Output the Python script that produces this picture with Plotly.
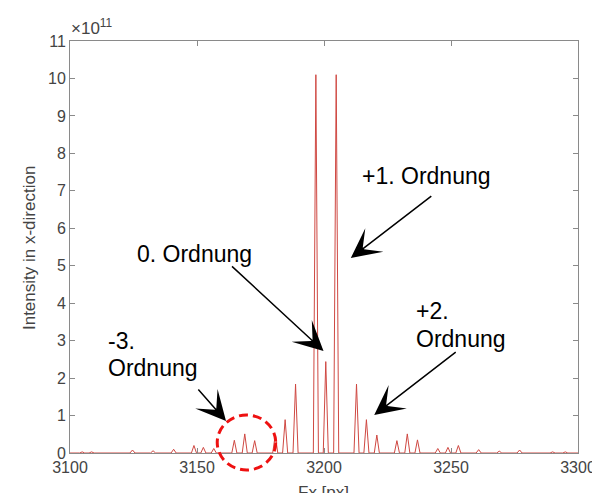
import plotly.graph_objects as go

# ---- data (intensity in units of 1e11) ----
peak_fx = [3104.8, 3108.5, 3124.6, 3132.7, 3140.8, 3148.8, 3152.5, 3156.6,
           3164.7, 3168.8, 3172.7, 3180.8, 3184.7, 3188.8, 3196.8, 3200.7,
           3204.8, 3212.8, 3216.7, 3220.8, 3228.7, 3232.8, 3236.8, 3244.8,
           3248.8, 3252.9, 3260.9, 3269.0, 3277.0, 3290.0, 3295.0]
peak_intensity = [0.03, 0.03, 0.08, 0.06, 0.10, 0.20, 0.15, 0.12,
                  0.34, 0.51, 0.33, 0.48, 0.89, 1.84, 10.1, 2.44,
                  10.1, 1.84, 0.89, 0.48, 0.33, 0.51, 0.35, 0.12,
                  0.15, 0.20, 0.09, 0.05, 0.08, 0.03, 0.03]
x_ticks = [3100, 3150, 3200, 3250, 3300]
y_ticks = list(range(0, 12))
half_width = 1.0  # peak half base width in px units

# build line through peaks (baseline between them)
xs, ys = [3100], [0]
for fx, h in zip(peak_fx, peak_intensity):
    xs += [fx - half_width, fx, fx + half_width]
    ys += [0, h, 0]
xs.append(3300)
ys.append(0)

W, H = 600, 493
L, R, T, B = 62, 17, 33, 48
pw, ph = W - L - R, H - T - B

def px(x):
    return (x - L) / pw

def py(y):
    return (H - B - y) / ph

FONT = "Liberation Sans, Arial, sans-serif"

fig = go.Figure()
fig.add_trace(go.Scatter(x=xs, y=ys, mode="lines",
                         line=dict(color="#cf4842", width=1),
                         hoverinfo="skip", showlegend=False))

axis_common = dict(showline=True, linecolor="#8a8a8a", linewidth=1,
                   mirror="ticks", ticks="inside", ticklen=5,
                   tickcolor="#8a8a8a", showgrid=False, zeroline=False,
                   ticklabeloverflow="allow",
                   tickfont=dict(family=FONT, size=16, color="#444444"))

fig.update_xaxes(range=[3099.999, 3300.001], tickvals=x_ticks,
                 ticktext=[str(v) for v in x_ticks], **axis_common)
fig.update_yaxes(range=[0, 11.0001], tickvals=y_ticks, **axis_common)

ann = []
# exponent label
ann.append(dict(text="×10<sup>11</sup>", x=px(61), y=py(32), xref="paper", yref="paper",
                xanchor="left", yanchor="bottom", showarrow=False,
                font=dict(family=FONT, size=17, color="#444444")))
# axis titles
ann.append(dict(text="Fx [px]", x=px(322), y=py(484), xref="paper", yref="paper",
                xanchor="center", yanchor="middle", showarrow=False,
                font=dict(family=FONT, size=17, color="#444444")))
ann.append(dict(text="Intensity in x-direction", x=px(20), y=py(240), xref="paper", yref="paper",
                xanchor="center", yanchor="middle", showarrow=False, textangle=-90,
                font=dict(family=FONT, size=17, color="#444444")))

tf = dict(family=FONT, size=23, color="black")
labels = [
    ("+1. Ordnung", 428, 168, "center"),
    ("0. Ordnung", 190, 246, "center"),
    ("+2.", 415, 303, "left"),
    ("Ordnung", 415, 331, "left"),
    ("-3.", 99, 333, "left"),
    ("Ordnung", 99, 360, "left"),
]
for t, x, y, xa in labels:
    ann.append(dict(text=t, x=px(x), y=py(y), xref="paper", yref="paper",
                    xanchor=xa, yanchor="middle", showarrow=False, font=tf))

arrows = [((432, 187), (350, 250)),
          ((229, 257), (322, 343)),
          ((457, 343), (374, 407)),
          ((193, 380), (222, 413))]
for (tx, ty), (hx, hy) in arrows:
    ann.append(dict(text="", x=px(hx), y=py(hy), xref="paper", yref="paper",
                    ax=tx - hx, ay=ty - hy, axref="pixel", ayref="pixel",
                    showarrow=True, arrowhead=3, arrowsize=3.3, arrowwidth=1.5,
                    arrowcolor="black", standoff=0))

fig.update_layout(
    width=W, height=H,
    margin=dict(l=L, r=R, t=T, b=B),
    paper_bgcolor="white", plot_bgcolor="white",
    annotations=ann,
    shapes=[dict(type="circle", xref="paper", yref="paper",
                 x0=px(213), x1=px(273), y0=py(462), y1=py(407),
                 line=dict(color="#ee1111", width=3, dash="9px,5px"))],
)

fig.write_html("out.html")
